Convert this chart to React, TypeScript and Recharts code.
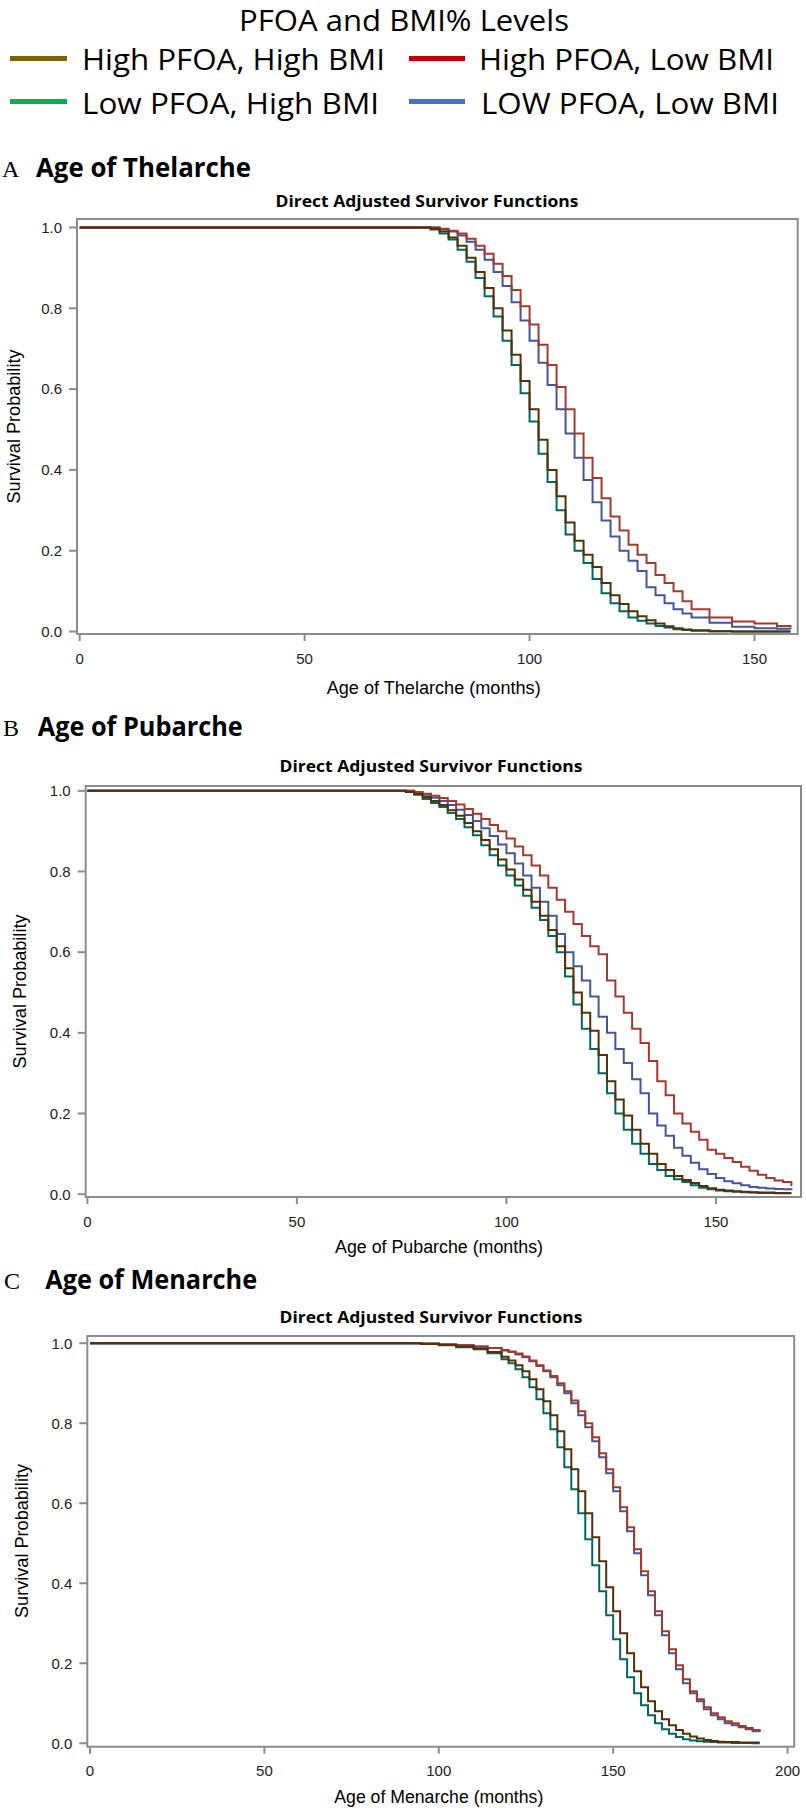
import React from "react";
import { LineChart, Line, XAxis, YAxis, ReferenceArea } from "recharts";

// legend
const legendLabels = [
  "High PFOA, High BMI",
  "High PFOA, Low BMI",
  "Low PFOA, High BMI",
  "LOW PFOA, Low BMI",
];
const legendColors = ["#7F6000", "#C00000", "#00B050", "#4472C4"];

// plot line colours (SAS default style)
const lineColors: Record<string, string> = {
  lh: "#01665E",
  ll: "#445694",
  hl: "#A23A2E",
  hh: "#543005",
};
const drawOrder = ["lh", "ll", "hl", "hh"];

const yTicks = [0, 0.2, 0.4, 0.6, 0.8, 1.0];
const xTicksAB = [0, 50, 100, 150];
const xTicksC = [0, 50, 100, 150, 200];

// A: thelarche
const thelarcheMonths = [0, 76, 78, 80, 82, 84, 86, 88, 90, 92, 94, 96, 98, 100, 102, 104, 106, 108, 110, 112, 114, 116, 118, 120, 122, 124, 126, 128, 130, 132, 134, 136, 140, 145, 150, 155, 158];
const thelarcheHighHigh = [1, 1, 0.997, 0.99, 0.975, 0.955, 0.925, 0.89, 0.85, 0.8, 0.745, 0.685, 0.62, 0.55, 0.475, 0.4, 0.335, 0.27, 0.225, 0.19, 0.16, 0.12, 0.09, 0.068, 0.05, 0.038, 0.028, 0.02, 0.013, 0.008, 0.005, 0.003, 0.001, 0, 0, 0, 0];
const thelarcheHighLow = [1, 1, 1, 0.997, 0.992, 0.985, 0.972, 0.955, 0.935, 0.91, 0.88, 0.845, 0.805, 0.76, 0.71, 0.66, 0.605, 0.55, 0.49, 0.43, 0.38, 0.33, 0.285, 0.25, 0.215, 0.19, 0.17, 0.14, 0.12, 0.1, 0.075, 0.055, 0.035, 0.025, 0.02, 0.014, 0.01];
const thelarcheLowHigh = [1, 1, 0.995, 0.985, 0.97, 0.945, 0.915, 0.875, 0.83, 0.78, 0.72, 0.66, 0.59, 0.52, 0.44, 0.37, 0.3, 0.24, 0.2, 0.17, 0.13, 0.095, 0.07, 0.05, 0.035, 0.027, 0.02, 0.014, 0.01, 0.006, 0.004, 0.002, 0.001, 0, 0, 0, 0];
const thelarcheLowLow = [1, 1, 1, 0.995, 0.99, 0.98, 0.965, 0.945, 0.92, 0.89, 0.855, 0.815, 0.77, 0.72, 0.665, 0.61, 0.55, 0.49, 0.43, 0.375, 0.32, 0.275, 0.235, 0.2, 0.175, 0.15, 0.11, 0.09, 0.07, 0.055, 0.045, 0.035, 0.022, 0.012, 0.008, 0.007, 0.006];

// B: pubarche
const pubarcheMonths = [0, 74, 76, 78, 80, 82, 84, 86, 88, 90, 92, 94, 96, 98, 100, 102, 104, 106, 108, 110, 112, 114, 116, 118, 120, 122, 124, 126, 128, 130, 132, 134, 136, 138, 140, 142, 144, 146, 148, 150, 152, 154, 156, 158, 160, 162, 164, 166, 168];
const pubarcheHighHigh = [1, 1, 0.997, 0.992, 0.985, 0.975, 0.965, 0.952, 0.938, 0.92, 0.9, 0.878, 0.855, 0.83, 0.805, 0.78, 0.755, 0.725, 0.69, 0.655, 0.615, 0.56, 0.5, 0.45, 0.405, 0.345, 0.28, 0.235, 0.195, 0.16, 0.125, 0.1, 0.075, 0.06, 0.045, 0.035, 0.028, 0.02, 0.015, 0.011, 0.009, 0.007, 0.006, 0.005, 0.004, 0.004, 0.003, 0.003, 0.003];
const pubarcheHighLow = [1, 1, 1, 0.997, 0.993, 0.988, 0.982, 0.975, 0.966, 0.955, 0.943, 0.93, 0.915, 0.9, 0.882, 0.862, 0.84, 0.815, 0.79, 0.76, 0.73, 0.7, 0.67, 0.64, 0.615, 0.595, 0.53, 0.49, 0.45, 0.41, 0.375, 0.33, 0.28, 0.245, 0.2, 0.175, 0.155, 0.135, 0.11, 0.1, 0.09, 0.08, 0.068, 0.058, 0.048, 0.04, 0.034, 0.03, 0.02];
const pubarcheLowHigh = [1, 1, 0.997, 0.99, 0.98, 0.97, 0.96, 0.945, 0.93, 0.91, 0.89, 0.865, 0.84, 0.815, 0.79, 0.765, 0.74, 0.71, 0.68, 0.64, 0.6, 0.54, 0.47, 0.41, 0.36, 0.3, 0.25, 0.2, 0.16, 0.125, 0.1, 0.075, 0.06, 0.045, 0.037, 0.03, 0.022, 0.016, 0.012, 0.009, 0.007, 0.006, 0.005, 0.004, 0.003, 0.003, 0.002, 0.002, 0.002];
const pubarcheLowLow = [1, 1, 1, 0.995, 0.99, 0.983, 0.975, 0.965, 0.953, 0.94, 0.925, 0.907, 0.888, 0.867, 0.845, 0.82, 0.79, 0.76, 0.725, 0.69, 0.645, 0.6, 0.565, 0.53, 0.49, 0.44, 0.4, 0.36, 0.325, 0.285, 0.25, 0.2, 0.17, 0.145, 0.115, 0.095, 0.078, 0.062, 0.05, 0.04, 0.032, 0.027, 0.022, 0.018, 0.016, 0.014, 0.013, 0.012, 0.01];

// C: menarche
const menarcheMonths = [0, 90, 95, 100, 105, 110, 114, 118, 120, 122, 124, 126, 128, 130, 132, 134, 136, 138, 140, 142, 144, 146, 148, 150, 152, 154, 156, 158, 160, 162, 164, 166, 168, 170, 172, 174, 176, 178, 180, 182, 184, 186, 188, 190, 192];
const menarcheHighHigh = [1, 1, 0.998, 0.996, 0.992, 0.987, 0.978, 0.966, 0.957, 0.945, 0.93, 0.91, 0.885, 0.855, 0.82, 0.78, 0.735, 0.685, 0.63, 0.575, 0.515, 0.455, 0.39, 0.33, 0.275, 0.225, 0.18, 0.14, 0.105, 0.08, 0.06, 0.045, 0.033, 0.024, 0.017, 0.012, 0.008, 0.006, 0.004, 0.003, 0.003, 0.002, 0.002, 0.002, 0.002];
const menarcheHighLow = [1, 1, 0.999, 0.997, 0.995, 0.992, 0.988, 0.983, 0.979, 0.974, 0.967, 0.957, 0.945, 0.932, 0.918, 0.9, 0.88, 0.857, 0.83, 0.8, 0.765, 0.725, 0.685, 0.64, 0.59, 0.54, 0.485, 0.43, 0.38, 0.33, 0.28, 0.235, 0.195, 0.16, 0.13, 0.11, 0.09, 0.075, 0.065, 0.055, 0.05, 0.043, 0.038, 0.033, 0.03];
const menarcheLowHigh = [1, 1, 0.998, 0.995, 0.99, 0.985, 0.975, 0.96, 0.95, 0.935, 0.915, 0.89, 0.86, 0.825, 0.785, 0.74, 0.69, 0.635, 0.575, 0.51, 0.445, 0.38, 0.32, 0.26, 0.21, 0.165, 0.125, 0.095, 0.07, 0.05, 0.035, 0.024, 0.016, 0.01, 0.007, 0.005, 0.004, 0.003, 0.002, 0.002, 0.001, 0.001, 0.001, 0, 0];
const menarcheLowLow = [1, 1, 0.999, 0.997, 0.995, 0.992, 0.988, 0.982, 0.978, 0.972, 0.965, 0.955, 0.943, 0.93, 0.915, 0.895, 0.875, 0.85, 0.82, 0.79, 0.755, 0.715, 0.675, 0.63, 0.58, 0.53, 0.475, 0.42, 0.37, 0.32, 0.27, 0.225, 0.185, 0.15, 0.125, 0.105, 0.085, 0.07, 0.06, 0.05, 0.045, 0.04, 0.035, 0.03, 0.028];

const toRows = (months: number[], hh: number[], hl: number[], lh: number[], ll: number[]) =>
  months.map((m, i) => ({ m, hh: hh[i], hl: hl[i], lh: lh[i], ll: ll[i] }));

const FRAME = "#8c8c8c";
const tickFont = { fontFamily: "'Liberation Sans', Arial, sans-serif", fontSize: 15, fill: "#222" };

type PanelProps = {
  rows: any[];
  left: number;
  right: number;
  top: number;
  bottom: number;
  xDomain: [number, number];
  yDomain: [number, number];
  xTicks: number[];
};

const SurvivalPanel = ({ rows, left, right, top, bottom, xDomain, yDomain, xTicks }: PanelProps) => {
  const padTop = 10;
  const axisH = 40;
  return (
    <div style={{ position: "absolute", left: 0, top: top - padTop }}>
      <LineChart
        width={806}
        height={bottom - top + padTop + axisH}
        data={rows}
        margin={{ top: padTop, right: 806 - right, bottom: 0, left: 0 }}
      >
        <XAxis
          dataKey="m"
          type="number"
          domain={xDomain}
          ticks={xTicks}
          interval={0}
          allowDataOverflow
          axisLine={false}
          height={axisH}
          tickSize={7}
          tickMargin={12}
          tickLine={{ stroke: FRAME, strokeWidth: 2 }}
          tick={tickFont}
        />
        <YAxis
          type="number"
          domain={yDomain}
          ticks={yTicks}
          interval={0}
          allowDataOverflow
          width={left}
          axisLine={false}
          tickSize={8}
          tickMargin={7}
          tickLine={{ stroke: FRAME, strokeWidth: 2 }}
          tick={tickFont}
          tickFormatter={(v: number) => v.toFixed(1)}
        />
        <ReferenceArea
          x1={xDomain[0]}
          x2={xDomain[1]}
          y1={yDomain[0]}
          y2={yDomain[1]}
          fill="none"
          fillOpacity={0}
          stroke={FRAME}
          strokeWidth={2}
          ifOverflow="visible"
        />
        {drawOrder.map((k) => (
          <Line
            key={k}
            dataKey={k}
            type="stepAfter"
            stroke={lineColors[k]}
            strokeWidth={2}
            dot={false}
            isAnimationActive={false}
          />
        ))}
      </LineChart>
    </div>
  );
};

const calibri = "'Open Sans', 'Noto Sans', sans-serif";
const arial = "'Liberation Sans', Arial, sans-serif";
const serif = "'Liberation Serif', 'Times New Roman', serif";

const Overlay = () => (
  <svg
    width={806}
    height={1816}
    style={{ position: "absolute", left: 0, top: 0, pointerEvents: "none" }}
  >
    <text x={404} y={31} textAnchor="middle" fontFamily={calibri} fontSize={30} textLength={330} lengthAdjust="spacingAndGlyphs">
      PFOA and BMI% Levels
    </text>
    {/* legend */}
    <line x1={10} x2={67} y1={58.5} y2={58.5} stroke={legendColors[0]} strokeWidth={5} />
    <text x={82} y={70} fontFamily={calibri} fontSize={30} textLength={303} lengthAdjust="spacingAndGlyphs">{legendLabels[0]}</text>
    <line x1={409} x2={465} y1={58.5} y2={58.5} stroke={legendColors[1]} strokeWidth={5} />
    <text x={479} y={70} fontFamily={calibri} fontSize={30} textLength={295} lengthAdjust="spacingAndGlyphs">{legendLabels[1]}</text>
    <line x1={10} x2={67} y1={101.5} y2={101.5} stroke={legendColors[2]} strokeWidth={5} />
    <text x={82} y={113.5} fontFamily={calibri} fontSize={30} textLength={297} lengthAdjust="spacingAndGlyphs">{legendLabels[2]}</text>
    <line x1={409} x2={465} y1={101.5} y2={101.5} stroke={legendColors[3]} strokeWidth={5} />
    <text x={481} y={113.5} fontFamily={calibri} fontSize={30} textLength={298} lengthAdjust="spacingAndGlyphs">{legendLabels[3]}</text>

    {/* A */}
    <text x={2} y={177} fontFamily={serif} fontSize={24}>A</text>
    <text x={36} y={177} fontFamily={calibri} fontWeight="bold" fontSize={26} textLength={215} lengthAdjust="spacingAndGlyphs">Age of Thelarche</text>
    <text x={427} y={207} textAnchor="middle" fontFamily={calibri} fontWeight="bold" fontSize={16} textLength={303} lengthAdjust="spacingAndGlyphs">Direct Adjusted Survivor Functions</text>
    <text x={433.7} y={694} textAnchor="middle" fontFamily={arial} fontSize={18} textLength={214} lengthAdjust="spacingAndGlyphs">Age of Thelarche (months)</text>
    <text transform="translate(20,426.5) rotate(-90)" textAnchor="middle" fontFamily={arial} fontSize={18} textLength={154} lengthAdjust="spacingAndGlyphs">Survival Probability</text>

    {/* B */}
    <text x={3} y={736} fontFamily={serif} fontSize={24}>B</text>
    <text x={37.7} y={736} fontFamily={calibri} fontWeight="bold" fontSize={26} textLength={205} lengthAdjust="spacingAndGlyphs">Age of Pubarche</text>
    <text x={431} y={772} textAnchor="middle" fontFamily={calibri} fontWeight="bold" fontSize={16} textLength={303} lengthAdjust="spacingAndGlyphs">Direct Adjusted Survivor Functions</text>
    <text x={439} y={1253} textAnchor="middle" fontFamily={arial} fontSize={18} textLength={208} lengthAdjust="spacingAndGlyphs">Age of Pubarche (months)</text>
    <text transform="translate(25.7,991.5) rotate(-90)" textAnchor="middle" fontFamily={arial} fontSize={18} textLength={154} lengthAdjust="spacingAndGlyphs">Survival Probability</text>

    {/* C */}
    <text x={4} y={1289} fontFamily={serif} fontSize={24}>C</text>
    <text x={45.2} y={1289} fontFamily={calibri} fontWeight="bold" fontSize={26} textLength={212} lengthAdjust="spacingAndGlyphs">Age of Menarche</text>
    <text x={431} y={1323} textAnchor="middle" fontFamily={calibri} fontWeight="bold" fontSize={16} textLength={303} lengthAdjust="spacingAndGlyphs">Direct Adjusted Survivor Functions</text>
    <text x={438.8} y={1803} textAnchor="middle" fontFamily={arial} fontSize={18} textLength={209} lengthAdjust="spacingAndGlyphs">Age of Menarche (months)</text>
    <text transform="translate(28,1541) rotate(-90)" textAnchor="middle" fontFamily={arial} fontSize={18} textLength={154} lengthAdjust="spacingAndGlyphs">Survival Probability</text>
  </svg>
);

export default function App() {
  const rowsA = toRows(thelarcheMonths, thelarcheHighHigh, thelarcheHighLow, thelarcheLowHigh, thelarcheLowLow);
  const rowsB = toRows(pubarcheMonths, pubarcheHighHigh, pubarcheHighLow, pubarcheLowHigh, pubarcheLowLow);
  const rowsC = toRows(menarcheMonths, menarcheHighHigh, menarcheHighLow, menarcheLowHigh, menarcheLowLow);
  return (
    <div
      style={{
        position: "absolute",
        left: 0,
        top: 0,
        width: 806,
        height: 1816,
        background: "#fff",
        overflow: "hidden",
      }}
    >
      <SurvivalPanel rows={rowsA} left={77} right={797.7} top={219} bottom={634} xDomain={[-0.6, 159.6]} yDomain={[-0.006, 1.021]} xTicks={xTicksAB} />
      <SurvivalPanel rows={rowsB} left={85.7} right={801} top={786} bottom={1197} xDomain={[-0.4, 170.3]} yDomain={[-0.007, 1.012]} xTicks={xTicksAB} />
      <SurvivalPanel rows={rowsC} left={87.3} right={794.2} top={1336} bottom={1746.7} xDomain={[-0.77, 201.9]} yDomain={[-0.0085, 1.018]} xTicks={xTicksC} />
      <Overlay />
    </div>
  );
}
